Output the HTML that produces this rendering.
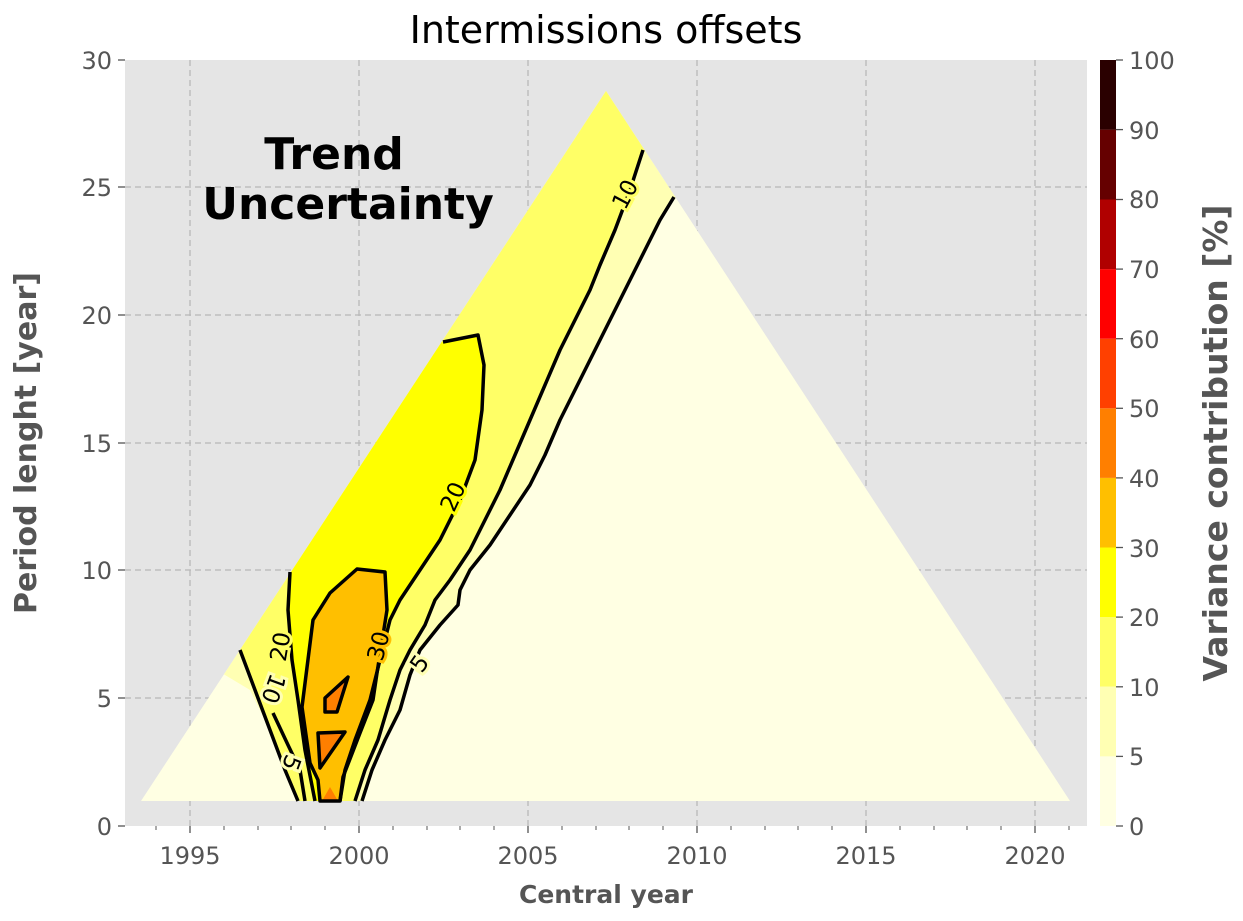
<!DOCTYPE html>
<html><head><meta charset="utf-8"><style>body{margin:0;background:#fff}svg{display:block}</style></head><body>
<svg width="1243" height="921" xmlns="http://www.w3.org/2000/svg" font-family="DejaVu Sans, Liberation Sans, sans-serif">
<rect x="125" y="60" width="962" height="766" fill="#e5e5e5"/>
<g stroke="#b8b8b8" stroke-width="1.3" stroke-dasharray="6,4">
<line x1="190" y1="60" x2="190" y2="826"/><line x1="359" y1="60" x2="359" y2="826"/><line x1="528" y1="60" x2="528" y2="826"/><line x1="697" y1="60" x2="697" y2="826"/><line x1="866" y1="60" x2="866" y2="826"/><line x1="1035" y1="60" x2="1035" y2="826"/>
<line x1="125" y1="698" x2="1087" y2="698"/><line x1="125" y1="570" x2="1087" y2="570"/><line x1="125" y1="443" x2="1087" y2="443"/><line x1="125" y1="315" x2="1087" y2="315"/><line x1="125" y1="187" x2="1087" y2="187"/>
</g>
<defs><clipPath id="tri"><polygon points="141,801 606,91 1070,801"/></clipPath></defs>
<polygon points="141,801 606,91 1070,801" fill="#ffffe3"/>
<g clip-path="url(#tri)" stroke="none">
<polygon fill="#ffffb3" points="100,600 100,40 760,40 676,197 660,220 645,250 625,290 605,330 590,360 575,390 560,420 545,455 530,485 510,515 490,545 470,570 460,590 458,605 440,625 420,650 410,675 400,710 385,740 372,770 362,801 300,801 285,760 265,720 250,690"/>
<polygon fill="#ffff66" points="100,560 100,40 720,40 645,150 630,190 615,230 600,265 590,290 575,320 560,350 545,385 530,420 515,455 500,490 485,520 470,550 450,580 435,600 425,625 410,650 400,670 390,700 378,740 365,770 355,801 298,801 285,770 270,730 255,690 238,645"/>
<polygon fill="#ffff00" points="300,300 443,342 478,335 484,365 482,410 475,460 460,500 440,540 420,570 400,600 390,620 380,660 370,700 355,740 345,770 340,801 315,801 305,750 298,700 292,660 288,610 290,572"/>
</g>
<polygon fill="#ffbf00" points="357,569 385,572 387,610 377,673 373,700 360,733 343,777 340,801 320,801 318,780 310,763 302,707 313,620 330,593"/>
<g fill="#ff7f00" stroke="#000" stroke-width="3.5" stroke-linejoin="round">
<polygon points="348,677 325,698 325,712 337,712"/>
<polygon points="318,733 345,732 320,768"/>
<polygon points="322,801 330,787 338,801" stroke="none"/>
</g>
<g fill="none" stroke="#000" stroke-width="3.5" stroke-linejoin="round">
<polyline points="674,197 660,220 645,250 625,290 605,330 590,360 575,390 560,420 545,455 530,485 510,515 490,545 470,570 460,590 458,605 440,625 420,650 410,675 400,710 385,740 372,770 362,801"/>
<polyline points="643,150 630,190 615,230 600,265 590,290 575,320 560,350 545,385 530,420 515,455 500,490 485,520 470,550 450,580 435,600 425,625 410,650 400,670 390,700 378,740 365,770 355,801"/>
<polyline points="443,342 478,335 484,365 482,410 475,460 460,500 440,540 420,570 400,600 390,620 380,660 370,700 355,740 345,770 340,801"/>
<polyline points="290,572 288,610 292,660 298,700 305,750 315,801"/>
<polyline points="240,650 255,690 270,730 285,770 298,801"/>
<polyline points="273,713 288,745 300,770 305,801"/>
<polygon points="357,569 385,572 387,610 377,673 373,700 360,733 343,777 340,801 320,801 318,780 310,763 302,707 313,620 330,593"/>
</g>
<g font-size="23" fill="#000">
<text transform="translate(632,198) rotate(-62)" text-anchor="middle" stroke="#ffff66" stroke-width="6" paint-order="stroke">10</text>
<text transform="translate(460,500) rotate(-65)" text-anchor="middle" stroke="#ffff00" stroke-width="6" paint-order="stroke">20</text>
<text transform="translate(386,648) rotate(-75)" text-anchor="middle" stroke="#ffbf00" stroke-width="6" paint-order="stroke">30</text>
<text transform="translate(426,668) rotate(-55)" text-anchor="middle" stroke="#ffffb3" stroke-width="6" paint-order="stroke">5</text>
<text transform="translate(288,648) rotate(-80)" text-anchor="middle" stroke="#ffff66" stroke-width="6" paint-order="stroke">20</text>
<text transform="translate(266,686) rotate(110)" text-anchor="middle" stroke="#ffffb3" stroke-width="6" paint-order="stroke">10</text>
<text transform="translate(284,760) rotate(110)" text-anchor="middle" stroke="#ffffb3" stroke-width="6" paint-order="stroke">5</text>
</g>
<text x="334" y="169" font-size="44" font-weight="bold" text-anchor="middle">Trend</text>
<text x="348" y="219" font-size="44" font-weight="bold" text-anchor="middle">Uncertainty</text>
<text x="606" y="43" font-size="38" text-anchor="middle">Intermissions offsets</text>
<g stroke="#555" stroke-width="1.3">
<line x1="190" y1="826" x2="190" y2="833"/><line x1="359" y1="826" x2="359" y2="833"/><line x1="528" y1="826" x2="528" y2="833"/><line x1="697" y1="826" x2="697" y2="833"/><line x1="866" y1="826" x2="866" y2="833"/><line x1="1035" y1="826" x2="1035" y2="833"/>
<line x1="118" y1="826" x2="125" y2="826"/><line x1="118" y1="698" x2="125" y2="698"/><line x1="118" y1="570" x2="125" y2="570"/><line x1="118" y1="443" x2="125" y2="443"/><line x1="118" y1="315" x2="125" y2="315"/><line x1="118" y1="187" x2="125" y2="187"/><line x1="118" y1="60" x2="125" y2="60"/>
</g>
<g stroke="#555" stroke-width="1">
<line x1="156" y1="826" x2="156" y2="830"/><line x1="224" y1="826" x2="224" y2="830"/><line x1="258" y1="826" x2="258" y2="830"/><line x1="291" y1="826" x2="291" y2="830"/><line x1="325" y1="826" x2="325" y2="830"/><line x1="393" y1="826" x2="393" y2="830"/><line x1="427" y1="826" x2="427" y2="830"/><line x1="460" y1="826" x2="460" y2="830"/><line x1="494" y1="826" x2="494" y2="830"/><line x1="562" y1="826" x2="562" y2="830"/><line x1="596" y1="826" x2="596" y2="830"/><line x1="629" y1="826" x2="629" y2="830"/><line x1="663" y1="826" x2="663" y2="830"/><line x1="731" y1="826" x2="731" y2="830"/><line x1="765" y1="826" x2="765" y2="830"/><line x1="798" y1="826" x2="798" y2="830"/><line x1="832" y1="826" x2="832" y2="830"/><line x1="900" y1="826" x2="900" y2="830"/><line x1="934" y1="826" x2="934" y2="830"/><line x1="967" y1="826" x2="967" y2="830"/><line x1="1001" y1="826" x2="1001" y2="830"/><line x1="1069" y1="826" x2="1069" y2="830"/>
</g>
<g font-size="24" fill="#555">
<g text-anchor="middle">
<text x="190" y="864">1995</text><text x="359" y="864">2000</text><text x="528" y="864">2005</text><text x="697" y="864">2010</text><text x="866" y="864">2015</text><text x="1035" y="864">2020</text>
</g>
<g text-anchor="end">
<text x="112" y="835">0</text><text x="112" y="707">5</text><text x="112" y="579">10</text><text x="112" y="452">15</text><text x="112" y="324">20</text><text x="112" y="196">25</text><text x="112" y="69">30</text>
</g>
</g>
<text x="606" y="903" font-size="25" font-weight="bold" fill="#555" text-anchor="middle">Central year</text>
<text transform="translate(36,443) rotate(-90)" font-size="30" font-weight="bold" fill="#555" text-anchor="middle">Period lenght [year]</text>
<g>
<rect x="1100" y="756.4" width="16" height="69.6" fill="#ffffe3"/>
<rect x="1100" y="686.8" width="16" height="69.6" fill="#ffffb3"/>
<rect x="1100" y="617.1" width="16" height="69.6" fill="#ffff66"/>
<rect x="1100" y="547.5" width="16" height="69.6" fill="#ffff00"/>
<rect x="1100" y="477.9" width="16" height="69.6" fill="#ffbf00"/>
<rect x="1100" y="408.3" width="16" height="69.6" fill="#ff7f00"/>
<rect x="1100" y="338.7" width="16" height="69.6" fill="#ff4000"/>
<rect x="1100" y="269.1" width="16" height="69.6" fill="#ff0000"/>
<rect x="1100" y="199.5" width="16" height="69.6" fill="#b00000"/>
<rect x="1100" y="129.6" width="16" height="69.9" fill="#650000"/>
<rect x="1100" y="60" width="16" height="69.6" fill="#2a0000"/>
</g>
<g stroke="#555" stroke-width="1.3">
<line x1="1116" y1="826" x2="1123" y2="826"/><line x1="1116" y1="756.4" x2="1123" y2="756.4"/><line x1="1116" y1="686.8" x2="1123" y2="686.8"/><line x1="1116" y1="617.1" x2="1123" y2="617.1"/><line x1="1116" y1="547.5" x2="1123" y2="547.5"/><line x1="1116" y1="477.9" x2="1123" y2="477.9"/><line x1="1116" y1="408.3" x2="1123" y2="408.3"/><line x1="1116" y1="338.7" x2="1123" y2="338.7"/><line x1="1116" y1="269.1" x2="1123" y2="269.1"/><line x1="1116" y1="199.5" x2="1123" y2="199.5"/><line x1="1116" y1="129.6" x2="1123" y2="129.6"/><line x1="1116" y1="60" x2="1123" y2="60"/>
</g>
<g font-size="24" fill="#555">
<text x="1129" y="835">0</text><text x="1129" y="765">5</text><text x="1129" y="696">10</text><text x="1129" y="626">20</text><text x="1129" y="557">30</text><text x="1129" y="487">40</text><text x="1129" y="417">50</text><text x="1129" y="348">60</text><text x="1129" y="278">70</text><text x="1129" y="208">80</text><text x="1129" y="139">90</text><text x="1129" y="69">100</text>
</g>
<text transform="translate(1227,443) rotate(-90)" font-size="33" font-weight="bold" fill="#555" text-anchor="middle">Variance contribution [%]</text>
</svg>
</body></html>
